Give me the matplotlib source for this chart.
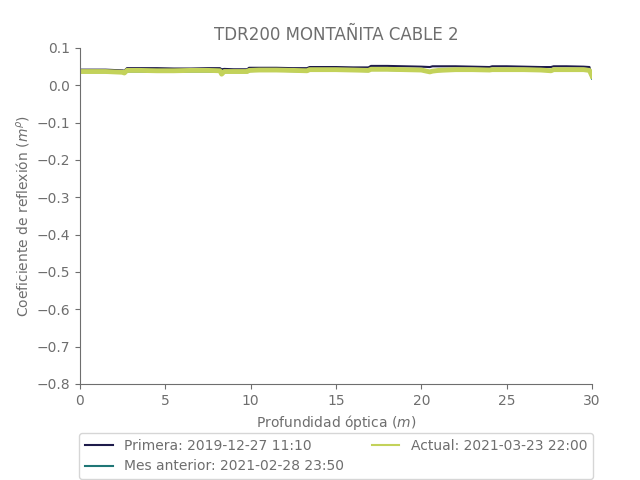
import matplotlib
matplotlib.use("Agg")
import matplotlib.pyplot as plt

# profundidad optica (m) y coeficiente de reflexion
depth = [0, 0.5, 1.0, 1.5, 2.0, 2.5, 2.6, 2.75, 3.5, 4.5, 5.5, 6.5, 7.5, 8.2, 8.3, 8.45,
         9.0, 9.8, 9.9, 10.5, 11.5, 12.5, 13.3, 13.45, 14.0, 15.0, 16.0, 16.9, 17.05, 18.0,
         19.0, 20.0, 20.5, 20.65, 21.0, 22.0, 23.0, 24.0, 24.15, 25.0, 26.0, 27.0, 27.6,
         27.75, 28.5, 29.5, 29.85, 30.0]

primera = [0.042, 0.042, 0.042, 0.042, 0.041, 0.040, 0.039, 0.046, 0.046, 0.046, 0.045, 0.045,
           0.046, 0.046, 0.043, 0.044, 0.043, 0.043, 0.047, 0.047, 0.047, 0.046, 0.046, 0.049,
           0.049, 0.049, 0.048, 0.048, 0.052, 0.052, 0.051, 0.050, 0.049, 0.051, 0.051, 0.051,
           0.050, 0.049, 0.051, 0.051, 0.050, 0.049, 0.049, 0.051, 0.051, 0.050, 0.049, 0.022]

mes_anterior = [0.035, 0.035, 0.035, 0.035, 0.034, 0.033, 0.031, 0.037, 0.037, 0.036, 0.036, 0.037,
                0.037, 0.036, 0.031, 0.035, 0.035, 0.035, 0.038, 0.039, 0.039, 0.038, 0.037, 0.040,
                0.040, 0.040, 0.039, 0.038, 0.041, 0.041, 0.040, 0.039, 0.036, 0.037, 0.038, 0.040,
                0.040, 0.039, 0.040, 0.040, 0.040, 0.039, 0.038, 0.040, 0.040, 0.040, 0.038, 0.018]

actual = [0.037, 0.037, 0.037, 0.037, 0.036, 0.035, 0.033, 0.040, 0.040, 0.039, 0.039, 0.040,
          0.040, 0.039, 0.030, 0.037, 0.037, 0.037, 0.040, 0.041, 0.041, 0.040, 0.039, 0.042,
          0.042, 0.042, 0.041, 0.040, 0.043, 0.043, 0.042, 0.041, 0.036, 0.038, 0.040, 0.042,
          0.042, 0.041, 0.042, 0.042, 0.042, 0.041, 0.039, 0.042, 0.042, 0.042, 0.040, 0.025]

labels = ["Primera: 2019-12-27 11:10", "Mes anterior: 2021-02-28 23:50", "Actual: 2021-03-23 22:00"]
colors = ["#1e1b4b", "#1f7676", "#c3d25a"]
gray = "#6e6e6e"

fig, ax = plt.subplots(figsize=(6.4, 4.8), dpi=100)
fig.subplots_adjust(left=0.125, right=0.925, top=0.9, bottom=0.2)

ax.plot(depth, primera, color=colors[0], lw=1.5, label=labels[0])
ax.plot(depth, mes_anterior, color=colors[1], lw=1.5, label=labels[1])
ax.plot(depth, actual, color=colors[2], lw=3.5, label=labels[2])

ax.set_xlim(0, 30)
ax.set_ylim(-0.8, 0.1)
ax.set_title("TDR200 MONTAÑITA CABLE 2", color=gray, fontsize=12)
ax.set_xlabel("Profundidad óptica ($m$)", color=gray)
ax.set_ylabel(r"Coeficiente de reflexión ($m^\rho$)", color=gray)

for s in ["top", "right"]:
    ax.spines[s].set_visible(False)
for s in ["left", "bottom"]:
    ax.spines[s].set_color(gray)
ax.tick_params(colors=gray)

leg = ax.legend(loc="upper center", bbox_to_anchor=(0.5, -0.125), ncol=2)
for t in leg.get_texts():
    t.set_color(gray)
for h in leg.legend_handles:
    h.set_linewidth(1.5)

plt.savefig("out.png")
